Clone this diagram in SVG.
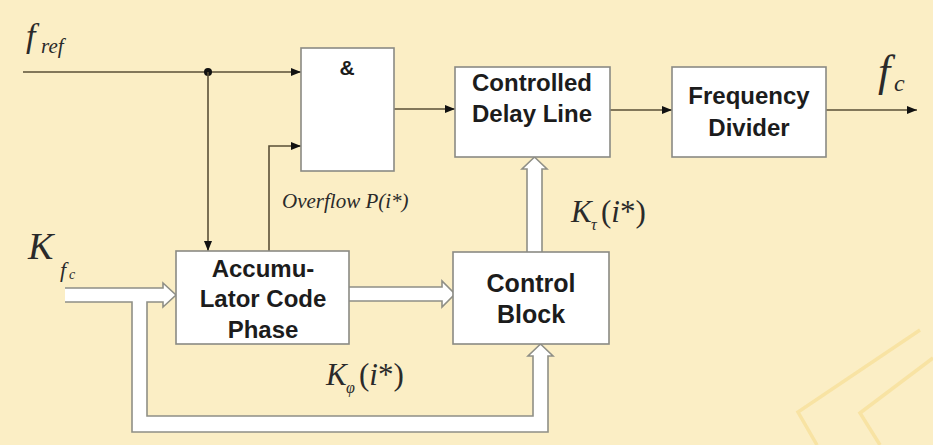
<svg xmlns="http://www.w3.org/2000/svg" width="933" height="445" viewBox="0 0 933 445">
<style>
.box{fill:#ffffff;stroke:#8a8a84;stroke-width:1.6}
.bt{font-family:"Liberation Sans",Arial,sans-serif;font-weight:bold;font-size:24px;fill:#1c1c1c;text-anchor:middle}
.ln{fill:none;stroke:#5a4f36;stroke-width:1.6}
.hollow{fill:#ffffff;stroke:#8f8f86;stroke-width:1.6;stroke-linejoin:miter}
.lab{font-family:"Liberation Serif","Times New Roman",serif;font-style:italic;fill:#2a2a2a}
.up{font-style:normal}
.deco{fill:none;stroke:#f5d57a;stroke-width:3.5;opacity:0.45}
</style>
<defs>
<marker id="ah" viewBox="0 0 10 8" refX="10" refY="4" markerWidth="10" markerHeight="8" markerUnits="userSpaceOnUse" orient="auto">
<path d="M0,0 L10,4 L0,8 Z" fill="#111"/>
</marker>
</defs>
<rect width="933" height="445" fill="#fbeec5"/>
<path class="deco" d="M920,330 L798,412 L817,445"/>
<path class="deco" d="M933,358 L860,413 L880,445"/>

<g id="connectors">
<line class="ln" x1="23" y1="72" x2="301" y2="72" marker-end="url(#ah)"/>
<circle cx="208" cy="72" r="4" fill="#111"/>
<line class="ln" x1="208" y1="72" x2="208" y2="251" marker-end="url(#ah)"/>
<polyline class="ln" points="269,251 269,146 301,146" marker-end="url(#ah)"/>
<line class="ln" x1="394" y1="109" x2="455" y2="109" marker-end="url(#ah)"/>
<line class="ln" x1="610" y1="110" x2="672" y2="110" marker-end="url(#ah)"/>
<line class="ln" x1="826" y1="110" x2="917" y2="110" marker-end="url(#ah)"/>
<path class="hollow" d="M65,288 L163,288 L163,283 L176,295 L163,307 L163,302 L147,302 L147,416 L533,416 L533,356 L528,356 L540.5,344 L553,356 L548,356 L548,432 L132,432 L132,302 L65,302"/>
<path class="hollow" d="M349,287 L442,287 L442,281 L455,294 L442,307 L442,301 L349,301"/>
<path class="hollow" d="M527,252 L527,169 L522,169 L534.5,157 L547,169 L542,169 L542,252"/>
</g>

<g id="and-gate">
<rect class="box" x="301" y="48" width="93" height="123"/>
<text class="bt" x="347" y="75" style="font-size:21px">&amp;</text>
</g>
<g id="delay-line">
<rect class="box" x="455" y="67" width="155" height="90"/>
<text class="bt" x="532" y="91">Controlled</text>
<text class="bt" x="532" y="122">Delay Line</text>
</g>
<g id="freq-divider">
<rect class="box" x="672" y="67" width="154" height="90"/>
<text class="bt" x="749" y="104">Frequency</text>
<text class="bt" x="749" y="136">Divider</text>
</g>
<g id="accumulator">
<rect class="box" x="176" y="251" width="173" height="93"/>
<text class="bt" x="263" y="277">Accumu-</text>
<text class="bt" x="263" y="307">Lator Code</text>
<text class="bt" x="263" y="338">Phase</text>
</g>
<g id="control-block">
<rect class="box" x="453" y="252" width="156" height="92"/>
<text class="bt" x="531" y="292" style="font-size:25px">Control</text>
<text class="bt" x="531" y="323" style="font-size:25px">Block</text>
</g>

<g id="labels">
<text class="lab" x="26" y="47" style="font-size:34px">f</text>
<text class="lab" x="41" y="53" style="font-size:21px">ref</text>
<text class="lab" x="878" y="86" style="font-size:44px">f</text>
<text class="lab" x="894" y="91" style="font-size:24px">c</text>
<text class="lab" x="28" y="259" style="font-size:38px">K</text>
<text class="lab" x="60" y="277" style="font-size:22px">f</text>
<text class="lab" x="69" y="279" style="font-size:14px">c</text>
<text class="lab" x="282" y="208" style="font-size:21px">Overflow P(i*)</text>
<text class="lab" x="571" y="222" style="font-size:31px">K</text>
<text class="lab" x="591" y="230" style="font-size:16px">τ</text>
<text class="lab" x="601" y="222" style="font-size:31px"><tspan class="up">(</tspan>i<tspan class="up">*)</tspan></text>
<text class="lab" x="326" y="385" style="font-size:31px">K</text>
<text class="lab" x="346" y="393" style="font-size:16px">φ</text>
<text class="lab" x="359" y="385" style="font-size:31px"><tspan class="up">(</tspan>i<tspan class="up">*)</tspan></text>
</g>
</svg>
